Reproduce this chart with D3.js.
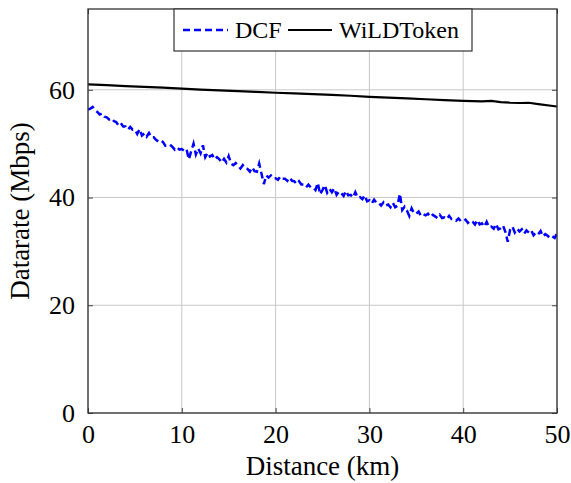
<!DOCTYPE html>
<html>
<head>
<meta charset="utf-8">
<script src="https://cdn.jsdelivr.net/npm/d3@7"></script>
<style>
  body { margin: 0; background: #fff; }
</style>
</head>
<body>
<div id="my_dataviz"></div>
<script>
// data
var xTicks = [0, 10, 20, 30, 40, 50];
var yTicks = [0, 20, 40, 60];

// DCF sampled every 0.25 km
var dcfStep = 0.25;
var dcfRate = [
  56.3, 56.5, 56.8, 56.2,
  55.9, 55.4, 55.6, 55.0,
  54.9, 54.5, 54.7, 54.2,
  54.0, 53.4, 53.8, 53.2,
  53.2, 52.6, 53.1, 52.6,
  52.6, 51.8, 52.7, 51.5,
  51.9, 51.3, 52.0, 51.2,
  51.2, 50.7, 50.4, 50.6,
  50.3, 49.6, 49.6, 49.8,
  49.4, 48.9, 49.3, 48.9,
  49.0, 48.7, 49.0, 47.1,
  48.6, 50.0, 48.0, 49.1,
  48.2, 49.7, 47.5, 48.3,
  47.6, 47.9, 47.1, 47.5,
  47.1, 46.5, 47.2, 46.5,
  47.7, 46.3, 46.0, 46.4,
  45.9, 45.4, 46.0, 45.4,
  45.3, 44.8, 45.6, 44.9,
  44.8, 46.3, 44.4, 42.5,
  44.1, 43.7, 44.1, 43.6,
  43.6, 43.3, 43.9, 43.5,
  43.5, 43.1, 43.7, 43.1,
  43.0, 42.5, 43.0, 42.4,
  42.4, 41.9, 42.4, 41.9,
  41.9, 41.4, 42.7, 40.6,
  41.4, 42.3, 40.9, 41.6,
  41.0, 41.7, 40.5, 41.1,
  40.8, 40.3, 41.2, 40.4,
  40.5, 40.0, 41.0, 40.0,
  40.1, 39.7, 40.4, 39.3,
  39.5, 38.9, 39.6, 39.0,
  39.0, 38.5, 39.1, 38.5,
  38.7, 38.2, 39.0, 38.2,
  38.5, 40.7, 37.7, 38.3,
  37.6, 36.6, 38.0, 37.1,
  37.0, 37.4, 36.6, 36.9,
  36.7, 37.0, 36.4, 36.8,
  36.5, 36.2, 36.8, 36.2,
  36.3, 36.0, 36.6, 36.0,
  36.0, 35.7, 36.1, 35.6,
  35.6, 35.9, 35.3, 35.7,
  35.5, 35.0, 35.8, 35.0,
  35.2, 34.6, 35.5, 34.5,
  34.6, 34.2, 35.1, 34.1,
  34.3, 34.8, 33.6, 31.8,
  34.0, 34.6, 33.5, 34.2,
  33.7, 34.1, 33.3, 33.9,
  33.5, 33.9, 33.0, 33.5,
  33.2, 33.8, 32.8, 33.2,
  32.9, 32.5, 32.8, 32.5,
  33.3
];

var wildDistance = [0, 2, 4, 6, 8, 10, 12, 14, 16, 18, 20, 22, 24, 26, 28, 30, 32, 34, 36, 38, 40, 42, 43, 44, 45, 46, 47, 48, 50];
var wildRate = [61.0, 60.85, 60.7, 60.55, 60.4, 60.2, 60.05, 59.9, 59.75, 59.6, 59.45, 59.35, 59.2, 59.05, 58.9, 58.7, 58.55, 58.4, 58.25, 58.1, 57.95, 57.85, 57.95, 57.7, 57.6, 57.55, 57.6, 57.35, 56.9];

var serif = "'Liberation Serif', 'Times New Roman', Times, 'DejaVu Serif', serif";

// set margin, width & height
var margin = {top: 9, right: 14, bottom: 70, left: 88},
    width = 571 - margin.left - margin.right,
    height = 483 - margin.top - margin.bottom;

var svg = d3.select("#my_dataviz")
    .append("svg")
    .attr("width", width + margin.left + margin.right)
    .attr("height", height + margin.top + margin.bottom)
    .attr("font-family", serif)
    .append("g")
    .attr("transform", "translate(" + margin.left + "," + margin.top + ")");

var x = d3.scaleLinear().domain([0, 50]).range([0, width]);
var y = d3.scaleLinear().domain([0, 75]).range([height, 0]);

// grid
svg.append("g")
    .selectAll("line")
    .data(xTicks)
    .enter()
    .append("line")
    .attr("x1", function(d) { return x(d); })
    .attr("x2", function(d) { return x(d); })
    .attr("y1", 0)
    .attr("y2", height)
    .attr("stroke", "#c8c8c8")
    .attr("stroke-width", 1);

svg.append("g")
    .selectAll("line")
    .data(yTicks)
    .enter()
    .append("line")
    .attr("x1", 0)
    .attr("x2", width)
    .attr("y1", function(d) { return y(d); })
    .attr("y2", function(d) { return y(d); })
    .attr("stroke", "#c8c8c8")
    .attr("stroke-width", 1);

// axes with inward ticks on all four sides
function styleAxis(g) {
  g.attr("font-family", serif);
  g.select(".domain").remove();
  g.selectAll(".tick line").attr("stroke", "#444").attr("stroke-width", 1);
  g.selectAll("text")
    .style("font-family", serif)
    .style("font-size", "26px")
    .attr("fill", "#000");
}

svg.append("g")
    .attr("transform", "translate(0," + height + ")")
    .call(d3.axisBottom(x).tickValues(xTicks).tickSize(-5).tickPadding(12))
    .call(styleAxis);

svg.append("g")
    .call(d3.axisTop(x).tickValues(xTicks).tickSize(-5).tickFormat(""))
    .call(styleAxis);

svg.append("g")
    .call(d3.axisLeft(y).tickValues(yTicks).tickSize(-5).tickPadding(13))
    .call(styleAxis);

svg.append("g")
    .attr("transform", "translate(" + width + ",0)")
    .call(d3.axisRight(y).tickValues(yTicks).tickSize(-5).tickFormat(""))
    .call(styleAxis);

// clip
svg.append("clipPath")
    .attr("id", "clip")
    .append("rect")
    .attr("width", width)
    .attr("height", height);

var line = d3.line()
    .x(function(d) { return x(d[0]); })
    .y(function(d) { return y(d[1]); });

var dcf = dcfRate.map(function(v, i) { return [i * dcfStep, v]; });
var wild = wildDistance.map(function(d, i) { return [d, wildRate[i]]; });

svg.append("path")
    .datum(wild)
    .attr("clip-path", "url(#clip)")
    .attr("d", line)
    .attr("fill", "none")
    .attr("stroke", "#000")
    .attr("stroke-width", 2.2);

svg.append("path")
    .datum(dcf)
    .attr("clip-path", "url(#clip)")
    .attr("d", line)
    .attr("fill", "none")
    .attr("stroke", "#0000ff")
    .attr("stroke-width", 2.5)
    .attr("stroke-dasharray", "7,4");

// frame
svg.append("rect")
    .attr("width", width)
    .attr("height", height)
    .attr("fill", "none")
    .attr("stroke", "#333")
    .attr("stroke-width", 1.3);

// axis labels
svg.append("text")
    .attr("x", width / 2)
    .attr("y", height + 62)
    .attr("text-anchor", "middle")
    .style("font-family", serif)
    .style("font-size", "27px")
    .text("Distance (km)");

svg.append("text")
    .attr("transform", "translate(" + (-59) + "," + (height / 2) + ")rotate(-90)")
    .attr("text-anchor", "middle")
    .style("font-family", serif)
    .style("font-size", "27px")
    .text("Datarate (Mbps)");

// legend
var legend = svg.append("g").attr("transform", "translate(" + (174 - margin.left) + ",0)");
legend.append("rect")
    .attr("width", 298)
    .attr("height", 42)
    .attr("fill", "#fff")
    .attr("stroke", "#333")
    .attr("stroke-width", 1.2);
legend.append("line")
    .attr("x1", 9).attr("x2", 54).attr("y1", 21).attr("y2", 21)
    .attr("stroke", "#0000ff").attr("stroke-width", 2.5).attr("stroke-dasharray", "7,4");
legend.append("text")
    .attr("x", 61).attr("y", 29)
    .style("font-family", serif)
    .style("font-size", "24px")
    .text("DCF");
legend.append("line")
    .attr("x1", 114).attr("x2", 158).attr("y1", 21).attr("y2", 21)
    .attr("stroke", "#000").attr("stroke-width", 2.2);
legend.append("text")
    .attr("x", 165).attr("y", 29)
    .style("font-family", serif)
    .style("font-size", "24px")
    .text("WiLDToken");
</script>
</body>
</html>
